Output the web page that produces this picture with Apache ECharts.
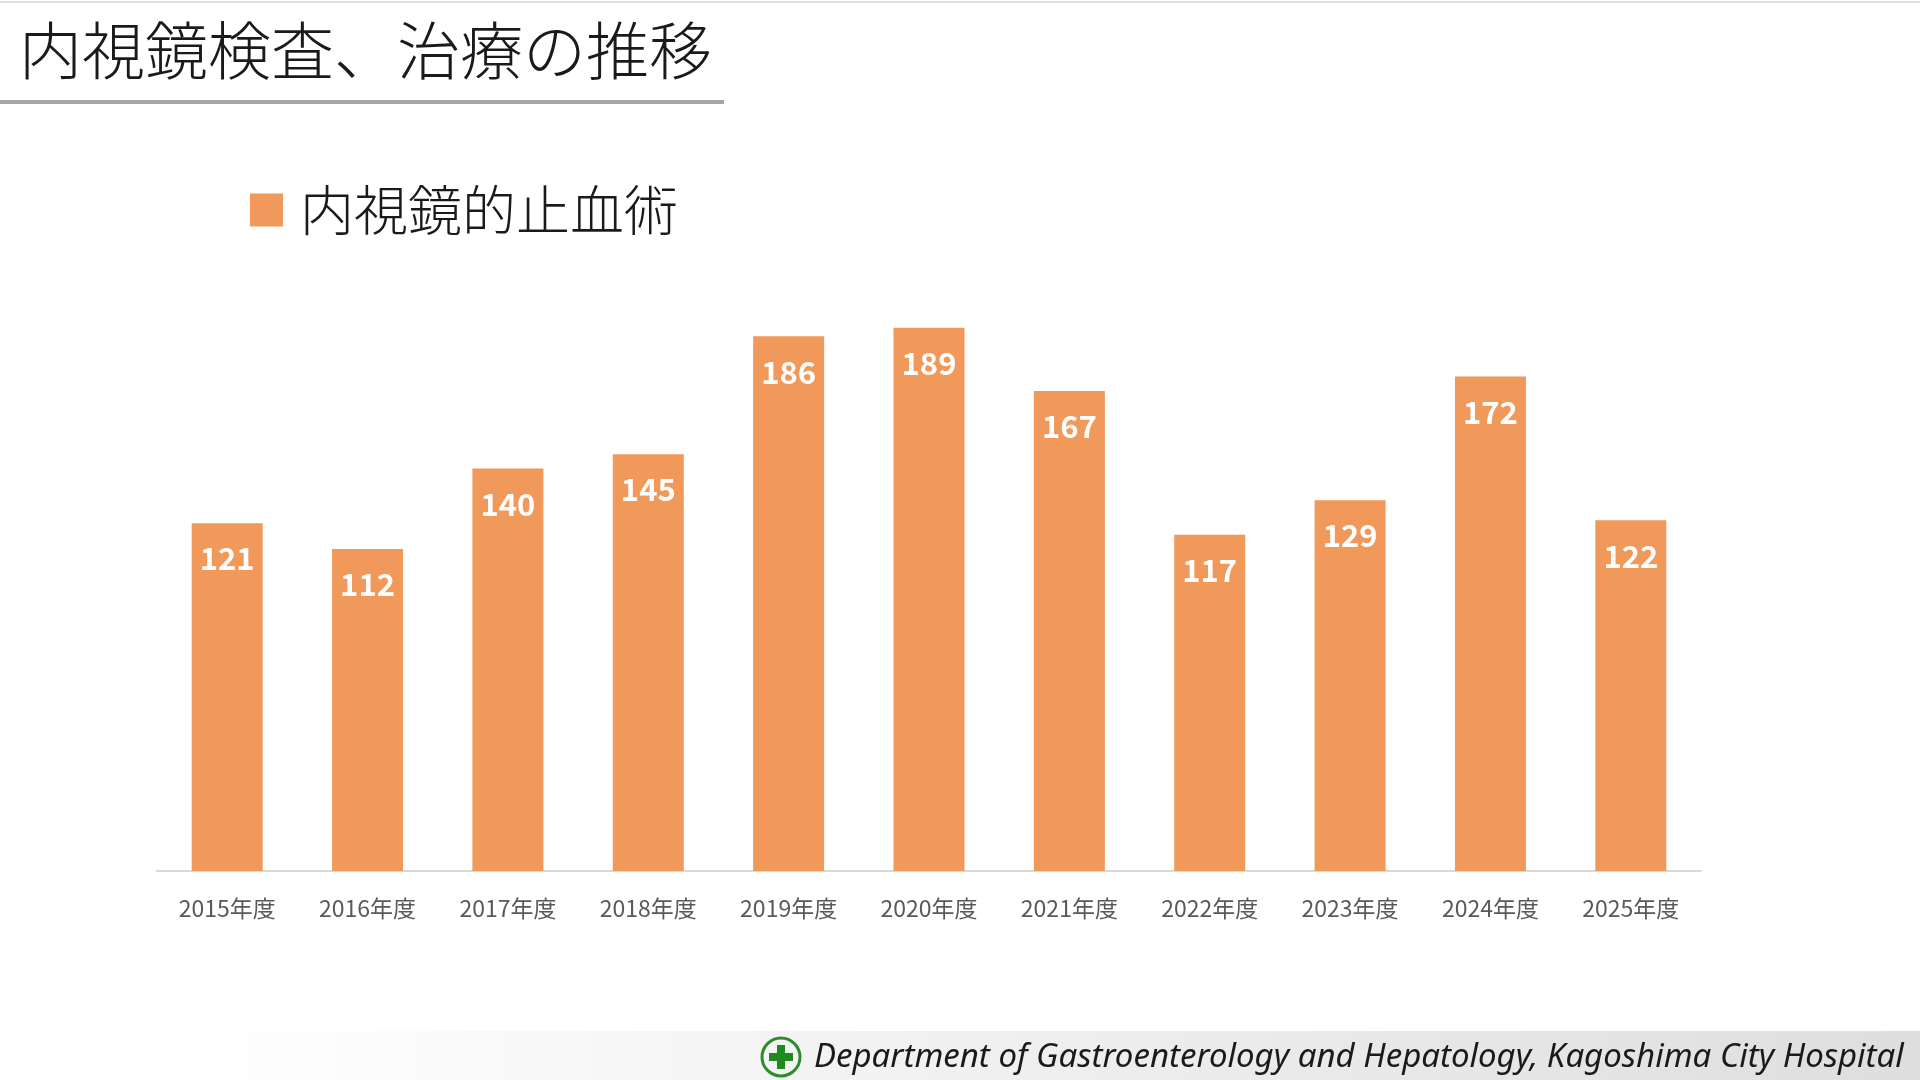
<html>
<head>
<meta charset="utf-8">
<title>内視鏡検査、治療の推移</title>
<script src="https://cdn.jsdelivr.net/npm/echarts@6/dist/echarts.min.js"></script>
<style>
  html, body { margin: 0; padding: 0; background: #fff; }
  #main { width: 1920px; height: 1080px; }
</style>
</head>
<body>
<div id="main"></div>
<script type="text/javascript">
// data
var years = ['2015年度', '2016年度', '2017年度', '2018年度', '2019年度', '2020年度',
             '2021年度', '2022年度', '2023年度', '2024年度', '2025年度'];
var hemostasis = [121, 112, 140, 145, 186, 189, 167, 117, 129, 172, 122];
var seriesName = '内視鏡的止血術';
var titleText = '内視鏡検査、治療の推移';
var footerText = 'Department of Gastroenterology and Hepatology, Kagoshima City Hospital';

var myChart = echarts.init(document.getElementById('main'));
var jp = '"Noto Sans CJK JP", "Noto Sans", sans-serif';

myChart.setOption({
    animation: false,
    backgroundColor: '#fff',
    title: {
        text: titleText,
        left: 14,
        top: 14,
        textStyle: { fontFamily: jp, fontSize: 63, fontWeight: 300, color: '#1a1a1a' }
    },
    legend: {
        left: 245,
        top: 178,
        itemWidth: 33,
        itemHeight: 33,
        icon: 'rect',
        data: [seriesName],
        textStyle: { fontFamily: jp, fontSize: 54, fontWeight: 300, color: '#1a1a1a', padding: [0, 0, 0, 12] }
    },
    grid: { left: 157, right: 219, top: 296, bottom: 209 },
    xAxis: {
        type: 'category',
        data: years,
        axisTick: { show: false },
        axisLine: { lineStyle: { color: '#d9d9d9', width: 2 } },
        axisLabel: { fontFamily: jp, fontSize: 23, color: '#595959', margin: 26 }
    },
    yAxis: {
        type: 'value',
        min: 0,
        max: 200,
        show: false,
        splitLine: { show: false }
    },
    series: [{
        name: seriesName,
        type: 'bar',
        data: hemostasis,
        barWidth: 71,
        itemStyle: { color: '#F0995A' },
        label: {
            show: true,
            position: 'insideTop',
            distance: 20,
            fontFamily: jp,
            fontSize: 31,
            fontWeight: 'bold',
            color: '#fff'
        }
    }],
    graphic: [
        // thin rule at the very top
        { type: 'rect', shape: { x: 0, y: 1, width: 1920, height: 2 }, style: { fill: '#e0e0e0' } },
        // title underline
        { type: 'rect', shape: { x: 0, y: 100, width: 724, height: 4 }, style: { fill: '#a6a6a6' } },
        // footer band
        {
            type: 'rect',
            shape: { x: 0, y: 1031, width: 1920, height: 49 },
            style: {
                fill: new echarts.graphic.LinearGradient(0, 0, 1, 0, [
                    { offset: 0, color: '#ffffff' },
                    { offset: 0.1, color: '#ffffff' },
                    { offset: 1, color: '#dedede' }
                ])
            }
        },
        // hospital mark
        { type: 'circle', shape: { cx: 781, cy: 1057, r: 19 }, style: { fill: 'none', stroke: '#2e8b2e', lineWidth: 3 } },
        { type: 'rect', shape: { x: 777, y: 1045, width: 8, height: 24 }, style: { fill: '#1f8a1f' } },
        { type: 'rect', shape: { x: 769, y: 1053, width: 24, height: 8 }, style: { fill: '#1f8a1f' } },
        {
            type: 'text',
            left: 814,
            top: 1041,
            style: {
                text: footerText,
                fontFamily: '"Noto Sans", sans-serif',
                fontStyle: 'italic',
                fontSize: 33,
                fill: '#1a1a1a'
            }
        }
    ]
});
</script>
</body>
</html>
